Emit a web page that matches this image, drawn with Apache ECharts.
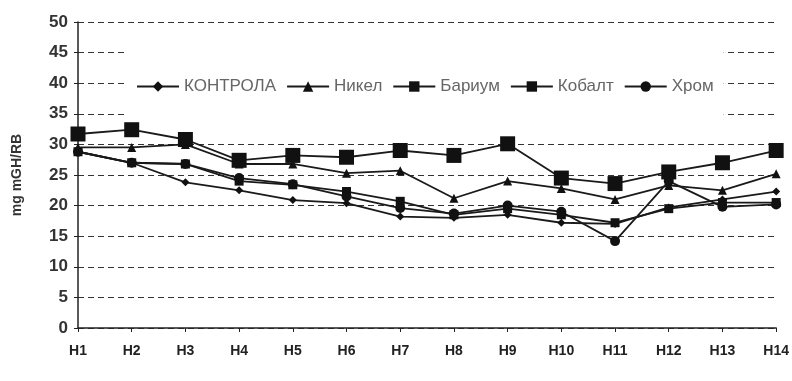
<!DOCTYPE html>
<html>
<head>
<meta charset="utf-8">
<script src="https://cdn.jsdelivr.net/npm/echarts@6/dist/echarts.min.js"></script>
<style>
    html, body { margin: 0; padding: 0; background: #fff; }
    #chart { width: 792px; height: 381px; }
</style>
</head>
<body>
<div id="chart"></div>
<script>
const categories = ['H1', 'H2', 'H3', 'H4', 'H5', 'H6', 'H7', 'H8', 'H9', 'H10', 'H11', 'H12', 'H13', 'H14'];

const kontrola = [28.8, 27, 23.8, 22.5, 20.9, 20.4, 18.2, 18, 18.5, 17.2, 17, 19.7, 21, 22.3];
const nikel = [29.5, 29.5, 30, 26.8, 26.8, 25.3, 25.7, 21.2, 24, 22.8, 21, 23.3, 22.5, 25.2];
const barium = [28.8, 27, 26.8, 24, 23.4, 22.3, 20.7, 18.5, 19.5, 18.5, 17.2, 19.5, 20.5, 20.5];
const kobalt = [31.7, 32.4, 30.8, 27.4, 28.2, 27.9, 29, 28.2, 30.1, 24.5, 23.6, 25.5, 27, 29];
const hrom = [28.8, 27, 26.8, 24.5, 23.5, 21.5, 19.6, 18.7, 20, 19, 14.2, 24, 19.8, 20.2];

const yTicks = { min: 0, max: 50, interval: 5 };

let chart = echarts.init(document.getElementById('chart'));

let line = (name, data, symbol, size) => {
    return {
        name: name,
        type: 'line',
        data: data,
        symbol: symbol,
        symbolSize: size,
        lineStyle: { color: '#1a1a1a', width: 1.8 },
        itemStyle: { color: '#111' }
    };
};

let option = {
    animation: false,
    textStyle: { fontFamily: 'Liberation Sans, Arial, sans-serif' },
    grid: {
        left: 78,
        right: 15,
        top: 22,
        bottom: 53
    },
    legend: {
        left: 128,
        top: 44,
        width: 640,
        backgroundColor: '#fff',
        padding: [34, 10, 22, 8],
        itemGap: 10,
        itemWidth: 42,
        itemHeight: 13,
        textStyle: { color: '#666', fontSize: 17 },
        data: ['КОНТРОЛА', 'Никел', 'Бариум', 'Кобалт', 'Хром']
    },
    xAxis: {
        type: 'category',
        data: categories,
        boundaryGap: false,
        axisLine: { lineStyle: { color: '#222', width: 1.5 } },
        axisTick: { length: 4, lineStyle: { color: '#222' } },
        axisLabel: {
            color: '#222',
            fontSize: 14,
            fontWeight: 'bold',
            margin: 16
        }
    },
    yAxis: {
        type: 'value',
        min: yTicks.min,
        max: yTicks.max,
        interval: yTicks.interval,
        name: 'mg mGH/RB',
        nameLocation: 'middle',
        nameGap: 54,
        nameTextStyle: { color: '#333', fontSize: 14, fontWeight: 'bold' },
        axisLine: { show: true, lineStyle: { color: '#222', width: 1.5 } },
        axisTick: { show: true, length: 4, lineStyle: { color: '#222' } },
        axisLabel: {
            color: '#333',
            fontSize: 17,
            fontWeight: 'bold',
            margin: 10
        },
        splitLine: {
            lineStyle: { color: '#333', type: [6, 4], width: 1.2 }
        }
    },
    series: [
        line('КОНТРОЛА', kontrola, 'diamond', 8),
        line('Никел', nikel, 'triangle', 9),
        line('Бариум', barium, 'rect', 9),
        line('Кобалт', kobalt, 'rect', 15),
        line('Хром', hrom, 'circle', 10)
    ]
};

chart.setOption(option);
</script>
</body>
</html>
